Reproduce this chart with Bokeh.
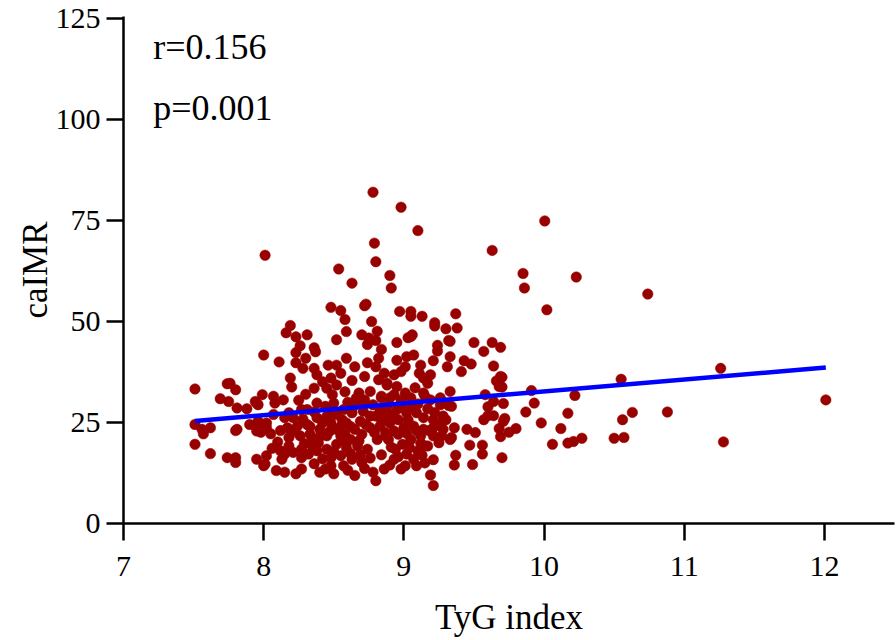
from bokeh.plotting import figure
from bokeh.models import FixedTicker, Range1d
from bokeh.core.properties import value
from bokeh.embed import file_html
from bokeh.resources import INLINE

pts = [
(8.01,66.4),(8.535,63.0),(8.63,59.5),(8.48,53.5),(8.55,52.7),(8.58,50.5),(8.59,47.5),(8.52,45.5),(8.19,49.0),(8.16,47.2),(8.23,46.2),(8.31,46.7),(8.26,44.0),(8.36,43.5),(8.23,42.3),(8.0,41.7),
(8.78,82.0),(8.98,78.3),(9.10,72.5),(8.79,69.4),(8.80,64.8),(9.63,67.6),(9.85,61.9),(9.86,58.3),(8.90,61.4),(8.91,58.3),(8.73,54.3),(8.77,50.0),(8.97,52.5),(9.05,52.5),(9.05,51.3),(9.13,51.3),(9.37,51.9),(9.22,49.7),(9.22,48.9),(9.30,48.2),(9.38,48.4),(8.70,46.7),(8.75,45.9),(8.81,47.6),(8.80,45.3),(8.74,44.3),(8.84,43.1),(8.95,44.8),(9.03,46.0),(9.06,46.7),(9.24,44.1),(9.33,45.1),(9.50,44.8),(9.57,42.6),(9.63,44.8),(9.69,43.6),(8.72,53.9),
(10.005,74.9),(10.23,61.0),(10.02,52.9),(10.74,56.8),(9.70,36.2),(9.70,33.8),(9.91,32.9),(9.71,29.7),(9.93,29.8),(10.22,31.7),(10.55,35.7),(11.26,38.4),(12.01,30.6),(9.87,27.6),(9.72,26.0),(9.71,25.3),(9.98,24.9),(10.17,27.3),(10.12,23.5),(10.63,27.5),(10.56,25.7),(10.88,27.6),(9.80,23.5),(9.75,22.6),(9.69,21.5),(10.06,19.6),(10.17,19.9),(10.21,20.3),(10.27,21.1),(10.50,21.1),(10.57,21.3),(11.28,20.2),(9.70,16.3),
(9.64,39.0),(9.69,36.4),(9.66,35.3),(9.68,33.9),(9.58,31.9),(9.64,30.2),(9.60,28.9),(9.60,26.7),(9.64,26.7),(9.57,25.7),(9.68,23.5),(9.45,23.3),(9.51,22.5),(9.47,19.4),(9.56,19.4),(9.56,17.2),(9.49,14.6),(9.37,16.9),(9.36,14.5),(9.21,15.8),(9.19,12.0),(9.21,9.4),(9.33,32.7),(9.26,30.6),(9.32,29.2),(9.26,29.4),(9.32,45.3),(9.24,42.7),(9.33,41.3),(9.31,38.8),(9.21,40.3),(9.43,40.3),(9.48,39.5),(9.41,37.6),(9.17,34.7),(9.19,36.8),(9.11,37.2),(9.15,31.5),(9.19,30.6),(9.36,23.7),(9.30,25.7),(9.33,20.8),(9.25,20.0),(9.15,19.2),(9.21,21.7),
(8.11,40.0),(8.37,42.5),(8.23,39.8),(8.30,40.9),(8.28,38.4),(8.36,38.4),(8.46,39.2),(8.52,39.2),(8.59,40.9),(8.65,38.8),(8.74,39.8),(8.82,40.9),(8.80,38.8),(8.86,37.2),(8.19,36.0),(8.20,33.8),(8.38,36.8),(8.42,35.1),(8.48,36.0),(8.52,34.3),(8.63,35.4),(8.36,33.5),(8.45,33.5),(8.68,32.3),(8.76,32.7),(8.84,31.1),(8.88,34.7),(7.80,33.1),(7.76,34.7),(7.99,31.9),(8.07,31.5),(7.94,30.2),(7.96,29.4),(8.08,29.8),(7.81,28.6),(7.88,28.4),(8.07,27.0),(8.18,27.4),(8.27,28.2),(8.31,28.2),(8.38,26.2),(8.48,27.4),(8.50,29.8),(8.49,31.9),(8.56,25.7),(8.63,27.4),(8.71,27.8),(8.76,26.6),(8.83,28.2),(8.88,27.0),(7.81,23.3),(7.90,24.5),(7.96,25.3),(7.95,22.9),(8.02,23.7),(8.15,26.2),(8.17,23.7),(8.24,24.1),(8.31,24.5),(8.18,21.3),(8.26,21.7),(8.33,22.1),(8.40,23.3),(8.45,21.7),(8.52,23.3),(8.58,22.1),(8.65,23.3),(8.70,22.1),(8.76,23.7),(8.83,24.1),(8.87,21.7),(8.81,20.8),(8.18,19.2),(8.27,18.4),(8.39,20.0),(8.45,18.4),(8.52,19.6),(8.59,18.8),(8.67,19.2),(8.74,18.4),(7.80,16.3),(7.80,15.1),(7.95,15.9),(8.0,14.3),(8.02,16.8),(8.13,15.9),(8.15,17.2),(8.27,16.3),(8.32,17.2),(8.09,13.1),(8.15,12.7),(8.23,12.3),(8.27,13.5),(8.40,12.7),(8.48,14.3),(8.50,12.3),(8.57,14.3),(8.63,15.9),(8.70,15.1),(8.55,16.8),(8.48,16.3),(8.78,12.7),(8.80,10.6),(8.55,21.7),(8.62,20.8),(8.48,24.9),(8.42,24.9),(8.59,24.9),(8.69,25.3),(8.21,26.2),(8.38,29.8),(8.57,28.2),(8.70,29.4),
(9.05,46.3),(8.95,40.4),(9.02,41.3),(9.07,41.7),(9.12,39.2),(9.01,38.8),(8.93,36.8),(8.98,37.6),(9.14,36.0),(8.88,34.3),(8.95,33.9),(9.01,32.3),(8.84,31.5),(8.90,31.1),(8.98,30.6),(9.05,31.1),(9.14,32.3),(9.26,31.1),(9.34,29.0),(8.88,29.0),(8.95,28.2),(9.06,29.0),(9.02,27.4),(9.09,27.4),(9.14,26.2),(9.21,25.7),(9.28,26.6),(8.84,25.7),(8.90,24.9),(8.96,25.7),(9.00,23.7),(9.07,24.1),(9.14,23.3),(9.21,23.7),(9.28,23.3),(9.34,21.3),(8.89,20.8),(8.96,22.1),(9.05,20.8),(9.12,21.7),(9.17,19.2),(8.94,18.4),(9.02,17.2),(9.07,15.9),(8.93,15.9),(8.98,13.5),(9.01,14.3),(9.09,14.3),(8.86,13.5),(8.87,22.5),
(7.51,33.3),(7.74,34.6),(7.69,30.9),(7.75,30.2),(7.95,29.8),(7.51,24.5),(7.56,23.3),(7.62,23.7),(7.57,22.2),(7.80,23.0),(7.96,24.9),(8.02,24.9),(7.98,22.6),(8.05,22.2),(7.51,19.6),(7.62,17.3),(7.74,16.3),(8.01,14.7),
(8.35,19.0),(8.42,16.0),(8.36,14.8),(8.60,13.2),(8.65,11.9),(8.44,13.5),(8.33,24.0),(8.36,27.6),(8.44,29.0),(8.52,27.0),(8.60,30.0),(8.66,31.0),(8.72,30.6),(8.78,29.4),(8.80,26.6),(8.73,24.5),(8.79,22.5),(8.62,24.0),(8.55,24.0),(8.47,22.8),(8.40,21.5),(8.35,20.8),(8.29,19.8),(8.22,22.8),(8.12,23.0),(8.10,20.2),(8.06,18.6),(8.12,18.0),(8.21,17.6),(8.38,18.0),(8.50,17.8),(8.62,17.3),(8.69,17.0),(8.76,16.2),(8.84,17.0),(8.91,18.9),(8.99,19.6),(9.04,18.8),(9.10,18.0),(9.12,19.9),(9.18,23.0),(9.22,27.5),(9.17,28.4),(9.10,29.6),(9.03,25.6),(8.92,27.0),(8.99,28.8),(8.93,22.9),(9.02,22.3),(9.09,23.0),(9.25,24.6),(9.27,21.7),(9.13,16.9),(9.15,15.0),(8.96,16.5),(8.90,14.5),(8.72,13.6),(8.68,20.5),(8.58,20.5),(8.45,26.5),(8.28,25.8),(8.25,30.5),(8.30,32.0),(8.14,30.6),(8.58,32.6),(8.64,29.0),(8.93,31.9),(9.08,33.6),(8.82,35.6),(8.72,36.4),(8.55,37.2),
]
tyg = [a for a, b in pts]
caimr = [b for a, b in pts]

fit_x = [7.51, 12.01]
fit_y = [25.4, 38.6]

x_ticks = [7, 8, 9, 10, 11, 12]
y_ticks = [0, 25, 50, 75, 100, 125]

stat_x = [7.212, 7.212]
stat_y = [117.9, 102.9]
stat_text = ["r=0.156", "p=0.001"]

FONT = "Liberation Serif"

p = figure(width=896, height=640, output_backend="svg", toolbar_location=None,
           x_range=Range1d(7, 12.5), y_range=Range1d(0, 125.5),
           min_border_left=123, min_border_right=2, min_border_top=16, min_border_bottom=117)
p.outline_line_color = None
p.xgrid.grid_line_color = None
p.ygrid.grid_line_color = None
p.background_fill_color = "white"

p.scatter(tyg, caimr, size=10.5, fill_color="#990000", line_color="#990000", line_width=0.5)
p.line(fit_x, fit_y, line_color="#0000FF", line_width=4.5)
p.text(x=stat_x, y=stat_y, text=stat_text, text_font=value(FONT), text_font_size="36px",
       text_baseline="alphabetic", text_align="left", text_color="black")

for ax in (p.xaxis[0], p.yaxis[0]):
    ax.axis_line_width = 2.5
    ax.axis_line_color = "black"
    ax.major_tick_line_width = 2.5
    ax.major_tick_line_color = "black"
    ax.major_tick_out = 17
    ax.major_tick_in = 0
    ax.minor_tick_out = 0
    ax.minor_tick_in = 0
    ax.major_label_text_font = FONT
    ax.major_label_text_font_size = "30px"
    ax.major_label_text_color = "black"
    ax.axis_label_text_font = FONT
    ax.axis_label_text_font_size = "35px"
    ax.axis_label_text_font_style = "normal"
    ax.axis_label_text_color = "black"

p.xaxis.ticker = FixedTicker(ticks=x_ticks)
p.yaxis.ticker = FixedTicker(ticks=y_ticks)
p.xaxis.major_label_standoff = 16
p.yaxis.major_label_standoff = 6
p.xaxis.axis_label = "TyG index"
p.yaxis.axis_label = "caIMR"
p.xaxis.major_label_text_line_height = 0.8
p.xaxis.axis_label_text_line_height = 0.8
p.xaxis.axis_label_standoff = 19
p.yaxis.axis_label_standoff = -2

open("out.html", "w").write(file_html(p, INLINE))
